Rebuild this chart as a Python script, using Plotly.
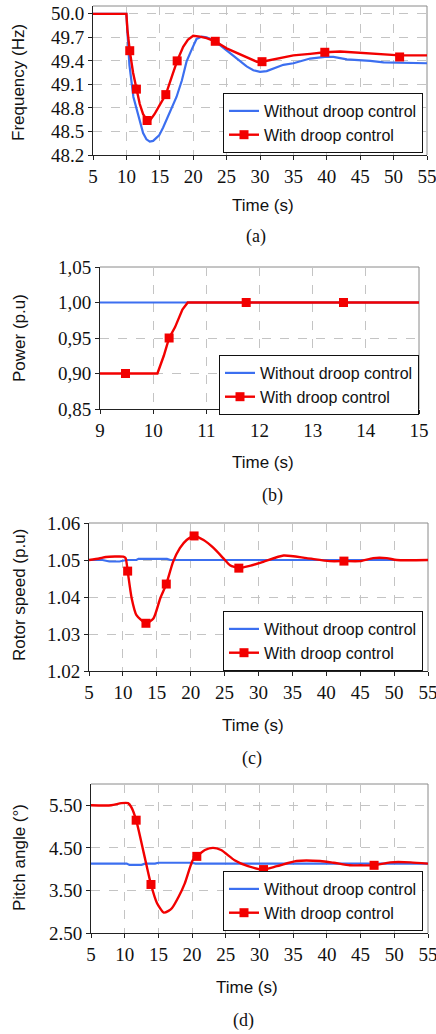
import plotly.graph_objects as go

W, H = 436, 1034

# ---------------- (a) Frequency ----------------
t_freq_without = [5, 10, 10.2, 10.45, 11.05, 11.8, 12.5, 13, 13.5, 14, 14.9, 15.5, 16.5, 17.5, 18.3, 19,
                  19.8, 20.5, 21.3, 22, 23.3, 25, 26.5, 28, 29, 30, 31, 32, 33.5, 35, 36.5, 37.5,
                  39.7, 41, 43, 45, 46.5, 48.5, 55]
freq_without = [50.0, 50.0, 49.7, 49.35, 48.94, 48.69, 48.48, 48.40, 48.37, 48.38, 48.45, 48.55, 48.75,
                48.94, 49.15, 49.39, 49.55, 49.68, 49.71, 49.70, 49.65, 49.53, 49.43, 49.33, 49.28,
                49.26, 49.27, 49.30, 49.35, 49.37, 49.41, 49.43, 49.45, 49.45, 49.42, 49.41, 49.40,
                49.38, 49.37]
t_freq_with = [5, 10, 10.15, 10.5, 11, 11.5, 12, 12.5, 13.1, 13.6, 14.2, 15, 15.9, 16.8, 17.6, 18.5,
               19.2, 20, 21, 22, 23.3, 25, 26.5, 28, 29.5, 30.3, 32, 33.5, 35, 37.5, 39.7, 42, 45,
               48, 50.9, 55]
freq_with = [50.0, 50.0, 49.8, 49.53, 49.25, 49.04, 48.85, 48.72, 48.64, 48.65, 48.72, 48.84, 48.97,
             49.2, 49.40, 49.58, 49.67, 49.72, 49.71, 49.69, 49.65, 49.56, 49.50, 49.44, 49.39,
             49.39, 49.42, 49.45, 49.47, 49.49, 49.51, 49.52, 49.50, 49.48, 49.47, 49.47]
t_freq_marks = [10.5, 11.5, 13.1, 15.9, 17.6, 23.3, 30.3, 39.7, 50.9]
freq_marks = [49.53, 49.04, 48.64, 48.97, 49.40, 49.65, 49.39, 49.51, 49.45]
freq_ticks = [48.2, 48.5, 48.8, 49.1, 49.4, 49.7, 50.0]
freq_ticktext = ["48.2", "48.5", "48.8", "49.1", "49.4", "49.7", "50.0"]

# ---------------- (b) Power ----------------
t_pow_without = [9, 15]
pow_without = [1.00, 1.00]
t_pow_with = [9, 9.48, 10.08, 10.2, 10.3, 10.41, 10.55, 10.65, 11.75, 13.58, 15]
pow_with = [0.90, 0.90, 0.90, 0.925, 0.95, 0.965, 0.99, 1.00, 1.00, 1.00, 1.00]
t_pow_marks = [9.48, 10.3, 11.75, 13.58]
pow_marks = [0.90, 0.95, 1.00, 1.00]
pow_ticks = [0.85, 0.90, 0.95, 1.00, 1.05]
pow_ticktext = ["0,85", "0,90", "0,95", "1,00", "1,05"]

# ---------------- (c) Rotor speed ----------------
t_rot_without = [5, 7, 8, 9.5, 10.5, 12, 12.3, 16.5, 17, 55]
rot_without = [1.0500, 1.0500, 1.0496, 1.0496, 1.0500, 1.0500, 1.0503, 1.0503, 1.0500, 1.0500]
t_rot_with = [5, 6.5, 7.5, 10.06, 10.4, 10.7, 11.3, 12.0, 13.4, 14.5, 15.5, 16.4, 17.4, 18.4, 19.4,
              20.5, 21.9, 23.4, 24.8, 25.8, 27.1, 28.7, 30.7, 33.7, 37.1, 40.5, 42.6, 45, 46.9,
              48.9, 50.4, 55]
rot_with = [1.0500, 1.0504, 1.0508, 1.0509, 1.0505, 1.0470, 1.0396, 1.0351, 1.0329, 1.0342, 1.0396,
            1.0435, 1.0495, 1.0532, 1.0554, 1.0565, 1.0554, 1.0532, 1.0505, 1.0486, 1.0478, 1.0484,
            1.0495, 1.0512, 1.0505, 1.0497, 1.0497, 1.0497, 1.0505, 1.0505, 1.0500, 1.0500]
t_rot_marks = [10.7, 13.4, 16.4, 20.5, 27.1, 42.6]
rot_marks = [1.0470, 1.0329, 1.0435, 1.0565, 1.0478, 1.0497]
rot_ticks = [1.02, 1.03, 1.04, 1.05, 1.06]
rot_ticktext = ["1.02", "1.03", "1.04", "1.05", "1.06"]

# ---------------- (d) Pitch angle ----------------
t_pitch_without = [5, 10.3, 10.7, 12.5, 13, 14.5, 15, 20, 20.5, 55]
pitch_without = [4.13, 4.13, 4.10, 4.10, 4.13, 4.13, 4.15, 4.15, 4.13, 4.13]
t_pitch_with = [5, 8, 9.5, 10.5, 11.0, 11.7, 12.8, 13.9, 14.8, 15.8, 16.5, 17.0, 18.0, 18.9, 20.1,
                20.7, 21.9, 23.1, 24.3, 26.3, 28.3, 30.6, 32.6, 35.5, 39, 41, 43.4, 45, 47, 49.4,
                52.4, 55]
pitch_with = [5.50, 5.50, 5.55, 5.55, 5.45, 5.15, 4.40, 3.64, 3.20, 2.98, 3.02, 3.08, 3.35, 3.66,
              4.21, 4.30, 4.45, 4.50, 4.45, 4.21, 4.07, 3.99, 4.07, 4.19, 4.19, 4.15, 4.09, 4.09,
              4.09, 4.16, 4.16, 4.13]
t_pitch_marks = [11.7, 13.9, 20.7, 30.6, 47]
pitch_marks = [5.15, 3.64, 4.30, 3.99, 4.09]
pitch_ticks = [2.5, 3.5, 4.5, 5.5]
pitch_ticktext = ["2.50", "3.50", "4.50", "5.50"]

time_ticks_long = [5, 10, 15, 20, 25, 30, 35, 40, 45, 50, 55]
time_ticks_short = [9, 10, 11, 12, 13, 14, 15]

series_names = ["Without droop control", "With droop control"]
BLUE = "#3C6FF0"
RED = "#F20000"
GRID = "#C4C4C4"

# panel geometry in pixels (left, right, top, bottom)
panels = [
    dict(px=(93, 427, 6, 155), xr=[5, 55], yr=[48.2, 50.1], xt=time_ticks_long, yt=freq_ticks, ytt=freq_ticktext,
         tb=(t_freq_without, freq_without), tr=(t_freq_with, freq_with), mk=(t_freq_marks, freq_marks),
         shape="linear", ylab="Frequency (Hz)", ylab_y=83, time_xy=(263, 205), cap="(a)", cap_xy=(256, 236),
         leg=(423, 153)),
    dict(px=(100, 419, 267, 409), xr=[9, 15], yr=[0.85, 1.05], xt=time_ticks_short, yt=pow_ticks, ytt=pow_ticktext,
         tb=(t_pow_without, pow_without), tr=(t_pow_with, pow_with), mk=(t_pow_marks, pow_marks),
         shape="linear", ylab="Power (p.u)", ylab_y=338, time_xy=(263, 462), cap="(b)", cap_xy=(272, 495),
         leg=(419, 415)),
    dict(px=(89, 428, 523, 671), xr=[5, 55], yr=[1.02, 1.06], xt=time_ticks_long, yt=rot_ticks, ytt=rot_ticktext,
         tb=(t_rot_without, rot_without), tr=(t_rot_with, rot_with), mk=(t_rot_marks, rot_marks),
         shape="spline", ylab="Rotor speed (p.u)", ylab_y=595, time_xy=(253, 725), cap="(c)", cap_xy=(252, 758),
         leg=(423, 671)),
    dict(px=(91, 428, 784, 933), xr=[5, 55], yr=[2.5, 6.0], xt=time_ticks_long, yt=pitch_ticks, ytt=pitch_ticktext,
         tb=(t_pitch_without, pitch_without), tr=(t_pitch_with, pitch_with), mk=(t_pitch_marks, pitch_marks),
         shape="spline", ylab="Pitch angle (°)", ylab_y=858, time_xy=(247, 987), cap="(d)", cap_xy=(243, 1020),
         leg=(423, 931)),
]

SERIF = "Liberation Serif, Times New Roman, serif"
SANS = "Liberation Sans, Arial, sans-serif"

fig = go.Figure()
annotations = []
shapes = []
layout = {}

for i, p in enumerate(panels):
    n = "" if i == 0 else str(i + 1)
    xa, ya = "x" + n, "y" + n
    leg = "legend" + n
    l, r, t, b = p["px"]
    fig.add_trace(go.Scatter(x=p["tb"][0], y=p["tb"][1], mode="lines", xaxis=xa, yaxis=ya,
                             line=dict(color=BLUE, width=2.2), showlegend=False, hoverinfo="skip"))
    fig.add_trace(go.Scatter(x=p["tr"][0], y=p["tr"][1], mode="lines", xaxis=xa, yaxis=ya,
                             line=dict(color=RED, width=2.4, shape=p["shape"], smoothing=0.6),
                             showlegend=False, hoverinfo="skip"))
    fig.add_trace(go.Scatter(x=p["mk"][0], y=p["mk"][1], mode="markers", xaxis=xa, yaxis=ya,
                             marker=dict(color=RED, size=9, symbol="square"), showlegend=False))
    # legend entries
    fig.add_trace(go.Scatter(x=[None], y=[None], mode="lines", xaxis=xa, yaxis=ya, name=series_names[0],
                             line=dict(color=BLUE, width=2.2), legend=leg))
    fig.add_trace(go.Scatter(x=[None], y=[None], mode="lines+markers", xaxis=xa, yaxis=ya, name=series_names[1],
                             line=dict(color=RED, width=2.4), marker=dict(color=RED, size=9, symbol="square"),
                             legend=leg))

    for key, dom, rng, anc, tv, tt in (("xaxis" + n, [l / W, r / W], p["xr"], ya, p["xt"], None),
                                       ("yaxis" + n, [1 - b / H, 1 - t / H], p["yr"], xa, p["yt"], p["ytt"])):
        ax = dict(domain=dom, range=rng, anchor=anc, tickvals=tv,
                  showgrid=True, gridcolor=GRID, griddash="dash", gridwidth=1,
                  showline=True, linecolor="#222", linewidth=1, ticks="outside",
                  ticklen=4, tickcolor="#222", zeroline=False, automargin=False,
                  ticklabeloverflow="allow", fixedrange=True,
                  tickfont=dict(family=SERIF, size=19, color="#111"))
        if tt is not None:
            ax["ticktext"] = tt
        layout[key] = ax
    layout[leg] = dict(x=p["leg"][0] / W, y=1 - p["leg"][1] / H, xanchor="right", yanchor="bottom",
                       bgcolor="white", bordercolor="#111", borderwidth=1,
                       font=dict(family=SANS, size=16, color="#111"), tracegroupgap=0,
                       itemwidth=30)
    # top and right frame lines
    shapes.append(dict(type="line", xref=xa + " domain", yref=ya + " domain", x0=0, x1=1, y0=1, y1=1,
                       line=dict(color="#8a8a8a", width=1), layer="below"))
    shapes.append(dict(type="line", xref=xa + " domain", yref=ya + " domain", x0=1, x1=1, y0=0, y1=1,
                       line=dict(color="#8a8a8a", width=1), layer="below"))
    annotations.append(dict(text="Time (s)", x=p["time_xy"][0] / W, y=1 - p["time_xy"][1] / H,
                            xref="paper", yref="paper", showarrow=False, xanchor="center", yanchor="middle",
                            font=dict(family=SANS, size=17, color="#111")))
    annotations.append(dict(text=p["cap"], x=p["cap_xy"][0] / W, y=1 - p["cap_xy"][1] / H,
                            xref="paper", yref="paper", showarrow=False, xanchor="center", yanchor="middle",
                            font=dict(family=SERIF, size=18, color="#111")))
    annotations.append(dict(text=p["ylab"], x=19 / W, y=1 - p["ylab_y"] / H, textangle=-90,
                            xref="paper", yref="paper", showarrow=False, xanchor="center", yanchor="middle",
                            font=dict(family=SANS, size=17, color="#111")))

fig.update_layout(width=W, height=H, margin=dict(l=0, r=0, t=0, b=0, autoexpand=False),
                  plot_bgcolor="white", paper_bgcolor="white", font=dict(family=SERIF),
                  annotations=annotations, shapes=shapes, **layout)

fig.write_html("out.html", config={"displayModeBar": False},
               post_script="document.body.style.margin='0px';document.body.style.padding='0px';"
                           "document.body.style.overflow='hidden';")
